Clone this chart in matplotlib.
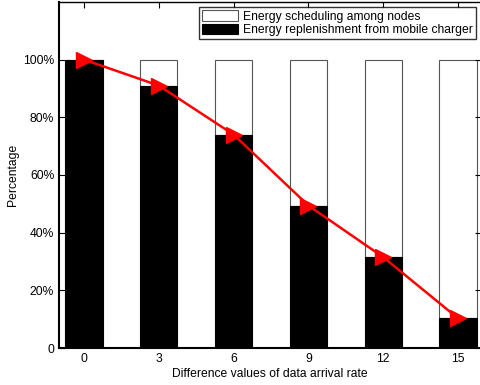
import matplotlib
matplotlib.use("Agg")
import matplotlib.pyplot as plt

plt.rcParams["font.family"] = ["Liberation Sans", "DejaVu Sans"]

rates = [0, 3, 6, 9, 12, 15]
charger = [100, 91, 74, 49.4, 31.5, 10.3]
scheduling = [100 - v for v in charger]
yticks = [0, 20, 40, 60, 80, 100]
ytick_labels = ["0", "20%", "40%", "60%", "80%", "100%"]

fig = plt.figure(figsize=(4.81, 3.85), dpi=100)
ax = fig.add_axes([0.1227, 0.096, 0.8773, 0.899])

ax.bar(rates, scheduling, bottom=charger, width=1.5, color="white",
       edgecolor="#555555", linewidth=0.8, label="Energy scheduling among nodes")
ax.bar(rates, charger, width=1.5, color="black", edgecolor="black",
       linewidth=0.8, label="Energy replenishment from mobile charger")
ax.plot(rates, charger, color="red", linewidth=1.8, marker=">",
        markersize=11, markerfacecolor="red", markeredgecolor="red")

ax.set_xlim(-1, 15.92)
ax.set_ylim(0, 120)
ax.set_xticks(rates)
ax.set_yticks(yticks)
ax.set_yticklabels(ytick_labels)
ax.tick_params(direction="in", top=True, right=True, labelsize=8.7, length=4)
ax.set_xlabel("Difference values of data arrival rate", fontsize=8.7, labelpad=2)
ax.set_ylabel("Percentage", fontsize=8.7, labelpad=3)
for s in ax.spines.values():
    s.set_linewidth(1.0)
ax.spines["left"].set_linewidth(1.5)
ax.spines["bottom"].set_linewidth(1.5)

leg = ax.legend(loc="upper right", fontsize=8.7, frameon=True, fancybox=False,
                edgecolor="black", borderpad=0.25, labelspacing=0.1,
                handlelength=3.0, handleheight=0.95, handletextpad=0.4,
                borderaxespad=0.45)
leg.get_frame().set_linewidth(1.0)

fig.savefig("out.png", dpi=100)
